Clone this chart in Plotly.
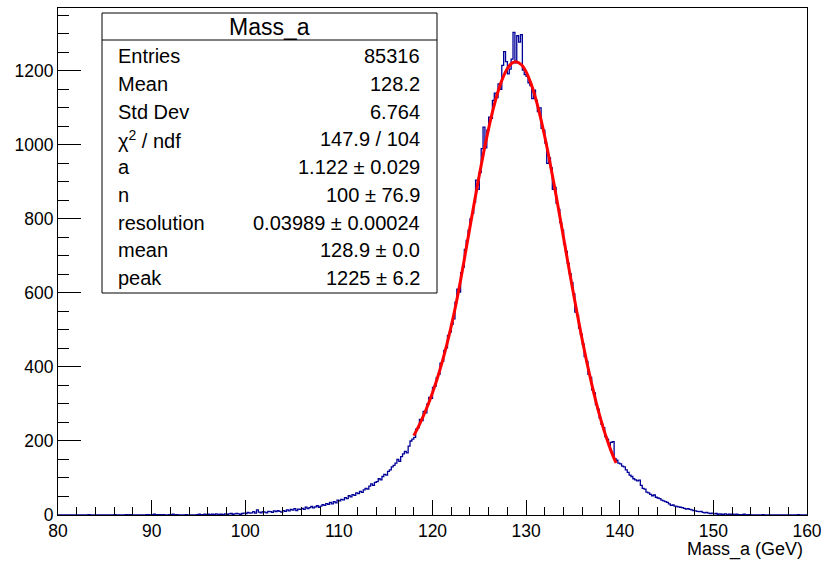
import numpy as np
import plotly.graph_objects as go

# ---------------- data ----------------
X_MIN, X_MAX, N_BINS = 80.0, 160.0, 400

COUNTS = [
    0, 0, 0, 0, 0, 0, 0, 0, 0, 0,                      # 80-82
    0, 0, 0, 0, 0, 0, 1, 0, 0, 0,                      # 82-84
    0, 0, 0, 0, 0, 0, 0, 0, 0, 0,                      # 84-86
    1, 0, 0, 0, 0, 0, 1, 0, 1, 0,                      # 86-88
    0, 0, 0, 0, 0, 0, 0, 1, 1, 0,                      # 88-90
    1, 2, 1, 1, 1, 0, 1, 0, 0, 1,                      # 90-92
    1, 2, 0, 1, 0, 0, 0, 0, 1, 0,                      # 92-94
    0, 0, 0, 0, 1, 2, 1, 1, 2, 1,                      # 94-96
    2, 1, 2, 1, 3, 1, 2, 2, 1, 3,                      # 96-98
    2, 3, 4, 2, 3, 4, 3, 2, 4, 5,                      # 98-100
    4, 7, 5, 6, 9, 5, 14, 8, 6, 9,                     # 100-102
    8, 6, 10, 9, 7, 11, 9, 12, 10, 8,                  # 102-104
    12, 10, 14, 11, 15, 13, 17, 12, 16, 15,            # 104-106
    18, 15, 21, 17, 20, 23, 19, 22, 25, 21,            # 106-108
    24, 28, 26, 31, 29, 34, 30, 36, 33, 40,            # 108-110
    38, 42, 41, 47, 44, 52, 49, 55, 53, 60,            # 110-112
    58, 64, 61, 68, 72, 70, 78, 84, 80, 88,            # 112-114
    90, 98, 95, 104, 110, 108, 118, 122, 130, 134,     # 114-116
    140, 150, 145, 158, 165, 172, 168, 186, 200, 205,  # 116-118
    210, 232, 236, 258, 255, 280, 276, 300, 318, 315,  # 118-120
    345, 348, 372, 380, 410, 415, 445, 452, 485, 494,  # 120-122
    515, 530, 575, 610, 602, 655, 670, 718, 742, 770,  # 122-124
    800, 815, 845, 905, 880, 925, 990, 1048, 992, 1040,      # 124-126
    1075, 1072, 1120, 1140, 1128, 1165, 1150, 1215, 1252, 1225,  # 126-128
    1192, 1205, 1232, 1304, 1222, 1295, 1278, 1298, 1202, 1190,  # 128-130
    1185, 1168, 1160, 1125, 1148, 1120, 1090, 1100, 1045, 1040,  # 130-132
    1005, 950, 965, 938, 880, 885, 842, 826, 790, 770,       # 132-134
    732, 712, 680, 652, 628, 598, 548, 540, 505, 488,        # 134-136
    462, 428, 415, 380, 372, 338, 330, 298, 286, 262,        # 136-138
    245, 236, 212, 205, 188, 196, 198, 152, 148, 140,        # 138-140
    138, 132, 130, 122, 115, 108, 104, 98, 95, 92,           # 140-142
    94, 80, 72, 70, 62, 60, 56, 52, 54, 48,                  # 142-144
    46, 44, 40, 38, 36, 34, 30, 26, 27, 24,                  # 144-146
    23, 22, 21, 20, 18, 16, 17, 15, 14, 12,                  # 146-148
    11, 10, 9, 10, 7, 6, 7, 5, 4, 5,                         # 148-150
    3, 4, 2, 3, 2, 2, 3, 1, 2, 2,                            # 150-152
    2, 1, 2, 1, 0, 1, 2, 0, 1, 1,                            # 152-154
    0, 0, 0, 0, 0, 0, 1, 0, 0, 0,                            # 154-156
    0, 0, 0, 0, 0, 0, 0, 0, 0, 0,                            # 156-158
    0, 0, 0, 0, 0, 1, 0, 0, 0, 0,                            # 158-160
]

FIT_X = [118.0, 118.5, 119.0, 119.5, 120.0, 120.5, 121.0, 121.5, 122.0, 122.5,
         123.0, 123.5, 124.0, 124.5, 125.0, 125.5, 126.0, 126.5, 127.0, 127.5,
         128.0, 128.5, 128.9, 129.5, 130.0, 130.5, 131.0, 131.5, 132.0, 132.5,
         133.0, 133.5, 134.0, 134.5, 135.0, 135.5, 136.0, 136.5, 137.0, 137.5,
         138.0, 138.5, 139.0, 139.6]
FIT_Y = [214.4, 238.9, 266.2, 296.6, 330.4, 368.3, 410.5, 457.5, 510.2, 568.9,
         634.4, 705.7, 777.9, 849.4, 918.8, 984.4, 1044.9, 1098.6, 1144.2, 1180.4,
         1206.4, 1221.3, 1225.0, 1216.7, 1197.3, 1167.1, 1127.0, 1078.0, 1021.4, 958.7,
         891.4, 821.0, 749.0, 676.9, 606.0, 537.5, 472.2, 410.9, 354.2, 302.4,
         255.9, 214.4, 178.0, 140.5]

STAT_TITLE = "Mass_a"
STAT_LABELS = ["Entries", "Mean", "Std Dev", "χ<sup>2</sup> / ndf", "a", "n",
               "resolution", "mean", "peak"]
STAT_VALUES = ["85316", "128.2", "6.764", "147.9 / 104", "1.122 ± 0.029",
               "100 ± 76.9", "0.03989 ± 0.00024", "128.9 ± 0.0", "1225 ± 6.2"]

X_TICKS = [80, 90, 100, 110, 120, 130, 140, 150, 160]
Y_TICKS = [0, 200, 400, 600, 800, 1000, 1200]
X_TITLE = "Mass_a (GeV)"
Y_MAX = 1370

# ---------------- layout geometry (pixels) ----------------
W, H = 821, 561
L, R, T, B = 58, 14, 8, 46
PW, PH = W - L - R, H - T - B


def px(xp):
    return (xp - L) / PW


def py(yp):
    return (H - B - yp) / PH


FONT = "Liberation Sans, Arial, Helvetica, sans-serif"
TICK_SIZE = 17.5

edges = np.linspace(X_MIN, X_MAX, N_BINS + 1)
step_x = list(edges)
step_y = list(COUNTS) + [COUNTS[-1]]

fig = go.Figure()
fig.add_trace(go.Scatter(x=step_x, y=step_y, mode="lines",
                         line=dict(shape="hv", color="#000099", width=1.3),
                         hoverinfo="skip", showlegend=False))
fig.add_trace(go.Scatter(x=FIT_X, y=FIT_Y, mode="lines",
                         line=dict(shape="spline", color="#ff0000", width=3),
                         hoverinfo="skip", showlegend=False))

shapes = [
    dict(type="rect", xref="paper", yref="paper",
         x0=px(102), x1=px(437), y0=py(293), y1=py(13),
         line=dict(color="black", width=1), fillcolor="white", layer="above"),
    dict(type="line", xref="paper", yref="paper",
         x0=px(102), x1=px(437), y0=py(40), y1=py(40),
         line=dict(color="black", width=1), layer="above"),
]

annotations = [
    dict(text=STAT_TITLE, xref="paper", yref="paper", x=px(269.5), y=py(27),
         xanchor="center", yanchor="middle", showarrow=False,
         font=dict(family=FONT, size=23, color="black")),
]
row0, drow = 56, 27.75
for i, (lab, val) in enumerate(zip(STAT_LABELS, STAT_VALUES)):
    yc = row0 + i * drow
    annotations.append(dict(text=lab, xref="paper", yref="paper", x=px(116), y=py(yc),
                            xanchor="left", yanchor="middle", showarrow=False,
                            font=dict(family=FONT, size=20, color="black")))
    annotations.append(dict(text=val, xref="paper", yref="paper", x=px(422), y=py(yc),
                            xanchor="right", yanchor="middle", showarrow=False,
                            font=dict(family=FONT, size=20, color="black")))
annotations.append(dict(text=X_TITLE, xref="paper", yref="paper", x=px(805), y=py(549),
                        xanchor="right", yanchor="middle", showarrow=False,
                        font=dict(family=FONT, size=18, color="black")))

fig.update_layout(
    width=W, height=H,
    margin=dict(l=L, r=R, t=T, b=B, pad=0, autoexpand=False),
    paper_bgcolor="white", plot_bgcolor="white",
    shapes=shapes, annotations=annotations,
    font=dict(family=FONT, size=TICK_SIZE, color="black"),
    xaxis=dict(range=[X_MIN, X_MAX], tickvals=X_TICKS, ticks="inside", ticklen=15,
               tickwidth=1, tickcolor="black", showline=True, linecolor="black",
               linewidth=1, mirror=True, showgrid=False, zeroline=False,
               ticklabeloverflow="allow", automargin=False,
               tickfont=dict(family=FONT, size=TICK_SIZE, color="black"),
               minor=dict(dtick=2, ticks="inside", ticklen=8, tickcolor="black",
                          tickwidth=1, showgrid=False)),
    yaxis=dict(range=[0, Y_MAX], tickvals=Y_TICKS, ticks="inside", ticklen=23,
               tickwidth=1, tickcolor="black", showline=True, linecolor="black",
               linewidth=1, mirror=True, showgrid=False, zeroline=False,
               ticklabeloverflow="allow", automargin=False,
               tickfont=dict(family=FONT, size=TICK_SIZE, color="black"),
               minor=dict(dtick=50, ticks="inside", ticklen=11, tickcolor="black",
                          tickwidth=1, showgrid=False)),
)

fig.write_html("out.html")
